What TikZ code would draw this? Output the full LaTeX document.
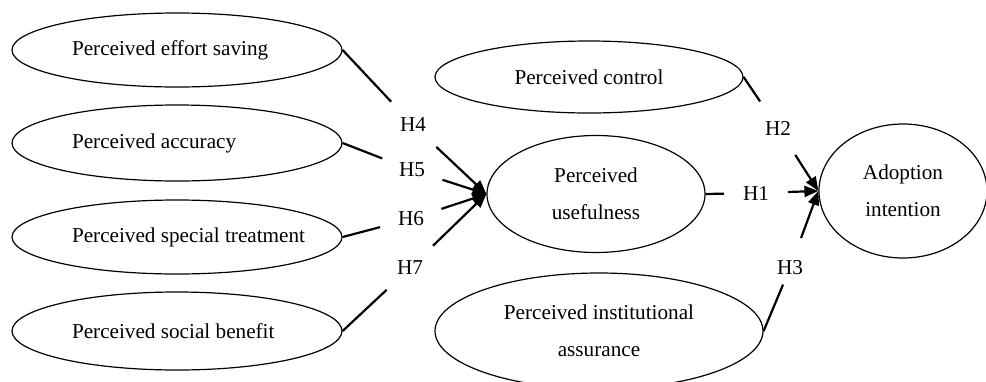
\documentclass[tikz,border=0pt]{standalone}
\usepackage{fontspec}
\setmainfont{Liberation Serif}
\usetikzlibrary{shapes.geometric,arrows.meta}
\tikzset{
	var/.style={draw,ellipse,line width=0.6pt,inner sep=0pt,align=center,
		font=\fontsize{10.6}{18.5}\selectfont},
	lvar/.style={var,minimum width=165pt,text width=105pt,align=flush left},
	hyp/.style={circle,minimum size=32pt,inner sep=0pt,outer sep=0pt,
		font=\fontsize{10.6}{12}\selectfont},
	link/.style={line width=1.1pt},
	arr/.style={line width=1.1pt,-{Triangle[length=7pt,width=5.5pt]}},
}
\hfuzz=100pt
\begin{document}
\begin{tikzpicture}[x=0.5pt,y=-0.5pt]
	\useasboundingbox (0,0) rectangle (986,381);
	%左侧变量
	\node[lvar,minimum height=37pt] (effort) at (177,50) {\mbox{Perceived effort saving}};
	\node[lvar,minimum height=38pt] (accur) at (177,143) {\mbox{Perceived accuracy}};
	\node[lvar,minimum height=37pt] (special) at (177,237) {\mbox{Perceived special treatment}};
	\node[lvar,minimum height=39pt] (social) at (177,331) {\mbox{Perceived social benefit}};
	%中间和右侧变量
	\node[var,minimum width=154pt,minimum height=36pt] (control) at (589,77) {Perceived control};
	\node[var,minimum width=109pt,minimum height=58.5pt] (useful) at (596,194) {Perceived\\usefulness};
	\node[var,minimum width=164pt,minimum height=58pt] (inst) at (599,331) {Perceived institutional\\assurance};
	\node[var,minimum width=84pt,minimum height=67pt] (adopt) at (903,191) {Adoption\\intention};
	%假设
	\node[hyp] (h4) at (413,125) {H4};
	\node[hyp] (h5) at (412,170) {H5};
	\node[hyp] (h6) at (411,219) {H6};
	\node[hyp] (h7) at (410,268) {H7};
	\node[hyp] (h2) at (778,128) {H2};
	\node[hyp] (h1) at (756,193) {H1};
	\node[hyp] (h3) at (790,268) {H3};
	%连线
	\draw[link] (effort.east) -- (h4);
	\draw[arr] (h4) -- (useful.west);
	\draw[link] (accur.east) -- (h5);
	\draw[arr] (h5) -- (useful.west);
	\draw[link] (special.east) -- (h6);
	\draw[arr] (h6) -- (useful.west);
	\draw[link] (social.east) -- (h7);
	\draw[arr] (h7) -- (useful.west);
	\draw[link] (control.east) -- (h2);
	\draw[arr] (h2) -- (adopt.west);
	\draw[link] (useful.east) -- (h1);
	\draw[arr] (h1) -- (adopt.west);
	\draw[link,shorten >=-7pt] (inst.east) -- (h3);
	\draw[arr] (h3) -- (adopt.west);
\end{tikzpicture}
\end{document}
